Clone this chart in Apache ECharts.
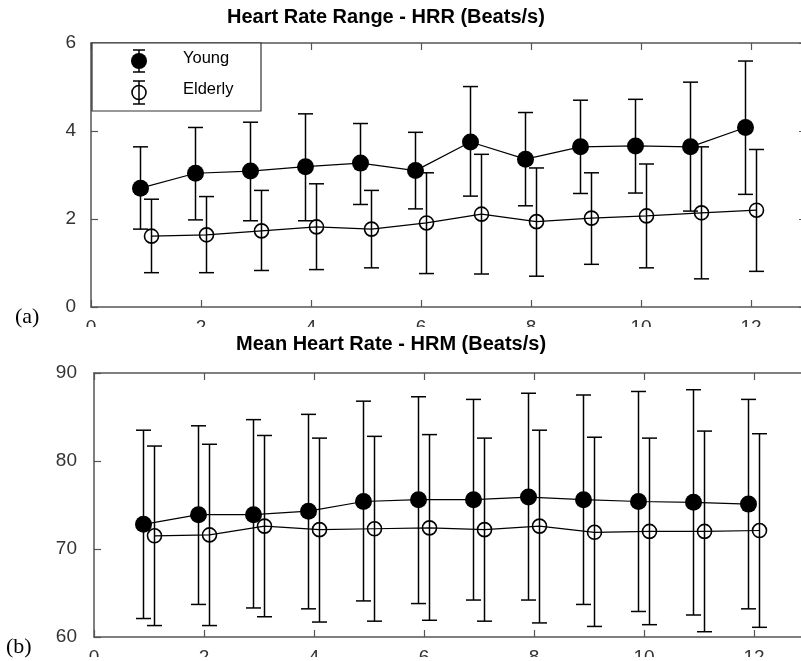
<!DOCTYPE html>
<html><head><meta charset="utf-8">
<script src="https://cdn.jsdelivr.net/npm/echarts@6/dist/echarts.min.js"></script>
<style>html,body{margin:0;padding:0;background:#fff}#c{width:801px;height:661px}</style>
</head><body><div id="c"></div><script>
// ---- data ----
const timePoints = [1,2,3,4,5,6,7,8,9,10,11,12];
const xTicks = [0,2,4,6,8,10,12];
const hrrTicks = [0,2,4,6];
const hrmTicks = [60,70,80,90];

const hrrYoungMean = [2.70,3.04,3.09,3.19,3.27,3.10,3.75,3.36,3.64,3.66,3.64,4.08];
const hrrYoungHigh = [3.64,4.08,4.20,4.39,4.17,3.97,5.01,4.42,4.70,4.72,5.11,5.59];
const hrrYoungLow  = [1.77,1.98,1.96,1.96,2.33,2.23,2.52,2.30,2.58,2.59,2.18,2.56];

const hrrElderMean = [1.61,1.64,1.73,1.82,1.77,1.91,2.11,1.94,2.02,2.07,2.14,2.20];
const hrrElderHigh = [2.45,2.51,2.65,2.80,2.65,3.05,3.47,3.16,3.05,3.25,3.64,3.58];
const hrrElderLow  = [0.78,0.78,0.83,0.85,0.89,0.76,0.75,0.70,0.97,0.89,0.64,0.81];

const hrmYoungMean = [72.8,73.9,73.9,74.3,75.4,75.6,75.6,75.9,75.6,75.4,75.3,75.1];
const hrmYoungHigh = [83.5,84.0,84.7,85.3,86.8,87.3,87.0,87.7,87.5,87.9,88.1,87.0];
const hrmYoungLow  = [62.1,63.7,63.3,63.2,64.1,63.8,64.2,64.2,63.7,62.9,62.5,63.2];

const hrmElderMean = [71.5,71.6,72.6,72.2,72.3,72.4,72.2,72.6,71.9,72.0,72.0,72.1];
const hrmElderHigh = [81.7,81.9,82.9,82.6,82.8,83.0,82.6,83.5,82.7,82.6,83.4,83.1];
const hrmElderLow  = [61.3,61.3,62.3,61.7,61.8,61.9,61.8,61.6,61.2,61.4,60.6,61.1];

const legendNames = ['Young','Elderly'];
const titles = ['Heart Rate Range - HRR (Beats/s)','Mean Heart Rate - HRM (Beats/s)'];
const panelTags = ['(a)','(b)'];

// ---- styling / layout ----
const YOUNG_OFF = -0.1, ELDER_OFF = 0.1;
const FONT = 'Liberation Sans, Arial, sans-serif';
const AX = '#555';

function pts(means, off){ return timePoints.map((t,i)=>[t+off, means[i]]); }
function bars(lo, hi, off){ return timePoints.map((t,i)=>[t+off, lo[i], hi[i]]); }

function errorBarItem(params, api){
  const x = api.value(0);
  const lo = api.coord([x, api.value(1)]);
  const hi = api.coord([x, api.value(2)]);
  const hw = 7.5;
  const style = {stroke:'#000', lineWidth:1.5, fill:null};
  return {type:'group', children:[
    {type:'line', shape:{x1:lo[0],y1:lo[1],x2:hi[0],y2:hi[1]}, style:style},
    {type:'line', shape:{x1:hi[0]-hw,y1:hi[1],x2:hi[0]+hw,y2:hi[1]}, style:style},
    {type:'line', shape:{x1:lo[0]-hw,y1:lo[1],x2:lo[0]+hw,y2:lo[1]}, style:style}
  ]};
}

function xAx(g, pos, showLabel){
  return {type:'value', gridIndex:g, position:pos, min:xTicks[0], max:13, interval:xTicks[1]-xTicks[0],
    axisLine:{show:true, onZero:false, lineStyle:{color:AX, width:1.5}},
    axisTick:{show:true, inside:true, length:7, lineStyle:{color:AX, width:1.2}},
    axisLabel:{show:showLabel, showMaxLabel:false, color:'#333', fontSize:19, fontFamily:FONT, margin:11},
    splitLine:{show:false}};
}
function yAx(g, pos, ticks, showLabel, margin){
  return {type:'value', gridIndex:g, position:pos, min:ticks[0], max:ticks[ticks.length-1], interval:ticks[1]-ticks[0],
    axisLine:{show:true, onZero:false, lineStyle:{color:AX, width:1.5}},
    axisTick:{show:true, inside:true, length:7, lineStyle:{color:AX, width:1.2}},
    axisLabel:{show:showLabel, color:'#333', fontSize:19, fontFamily:FONT, margin:margin, padding:[0,0,7,0]},
    splitLine:{show:false}};
}

function group(gi, yM, yH, yL, eM, eH, eL){
  const xi = gi*2, yi = gi*2;
  return [
    {type:'custom', xAxisIndex:xi, yAxisIndex:yi, renderItem:errorBarItem, data:bars(yL,yH,YOUNG_OFF), clip:false, z:2},
    {type:'custom', xAxisIndex:xi, yAxisIndex:yi, renderItem:errorBarItem, data:bars(eL,eH,ELDER_OFF), clip:false, z:2},
    {type:'line', name:legendNames[0], xAxisIndex:xi, yAxisIndex:yi, data:pts(yM,YOUNG_OFF), symbol:'circle', symbolSize:17,
      itemStyle:{color:'#000'}, lineStyle:{color:'#000', width:1.2}, z:3, emphasis:{disabled:true}},
    {type:'line', name:legendNames[1], xAxisIndex:xi, yAxisIndex:yi, data:pts(eM,ELDER_OFF), symbol:'circle', symbolSize:14,
      itemStyle:{color:'rgba(0,0,0,0)', borderColor:'#000', borderWidth:1.6}, lineStyle:{color:'#000', width:1.2}, z:3, emphasis:{disabled:true}}
  ];
}

const ls = {stroke:'#000', lineWidth:1.5};
const option = {
  backgroundColor:'#fff',
  animation:false,
  title:[
    {text:titles[0], left:227, top:7, padding:0, textStyle:{fontSize:20, fontWeight:'bold', color:'#000', fontFamily:FONT}},
    {text:titles[1], left:236, top:334, padding:0, textStyle:{fontSize:20, fontWeight:'bold', color:'#000', fontFamily:FONT}}
  ],
  grid:[
    {left:91, top:43, width:715, height:264, outerBoundsMode:'none', containLabel:false},
    {left:94, top:373, width:715, height:264, outerBoundsMode:'none', containLabel:false}
  ],
  xAxis:[xAx(0,'bottom',true), xAx(0,'top',false), xAx(1,'bottom',true), xAx(1,'top',false)],
  yAxis:[yAx(0,'left',hrrTicks,true,15), yAx(0,'right',hrrTicks,false,8), yAx(1,'left',hrmTicks,true,17), yAx(1,'right',hrmTicks,false,8)],
  series:[].concat(
    group(0, hrrYoungMean, hrrYoungHigh, hrrYoungLow, hrrElderMean, hrrElderHigh, hrrElderLow),
    group(1, hrmYoungMean, hrmYoungHigh, hrmYoungLow, hrmElderMean, hrmElderHigh, hrmElderLow)
  ),
  graphic:[
    {type:'rect', shape:{x:60, y:327, width:741, height:7}, style:{fill:'#fff'}, z:100, silent:true},
    {type:'rect', shape:{x:60, y:657, width:741, height:4}, style:{fill:'#fff'}, z:100, silent:true},
    {type:'text', left:15, top:306, z:101, style:{text:panelTags[0], font:'22px "Liberation Serif", serif', fill:'#000'}},
    {type:'text', left:6, top:636, z:101, style:{text:panelTags[1], font:'22px "Liberation Serif", serif', fill:'#000'}},
    // legend box
    {type:'rect', shape:{x:92, y:43, width:169, height:68}, style:{fill:'#fff', stroke:'#333', lineWidth:1.2}, z:50},
    {type:'line', shape:{x1:139,y1:50,x2:139,y2:72}, style:ls, z:51},
    {type:'line', shape:{x1:133,y1:50,x2:145,y2:50}, style:ls, z:51},
    {type:'line', shape:{x1:133,y1:72,x2:145,y2:72}, style:ls, z:51},
    {type:'circle', shape:{cx:139, cy:61, r:8}, style:{fill:'#000'}, z:52},
    {type:'line', shape:{x1:139,y1:81,x2:139,y2:104}, style:ls, z:51},
    {type:'line', shape:{x1:133,y1:81,x2:145,y2:81}, style:ls, z:51},
    {type:'line', shape:{x1:133,y1:104,x2:145,y2:104}, style:ls, z:51},
    {type:'circle', shape:{cx:139, cy:92.5, r:7}, style:{fill:'rgba(0,0,0,0)', stroke:'#000', lineWidth:1.6}, z:52},
    {type:'text', left:183, top:50, z:52, style:{text:legendNames[0], font:'16.5px "Liberation Sans", Arial, sans-serif', fill:'#000'}},
    {type:'text', left:183, top:81, z:52, style:{text:legendNames[1], font:'16.5px "Liberation Sans", Arial, sans-serif', fill:'#000'}}
  ]
};
const chart = echarts.init(document.getElementById('c'), null, {renderer:'canvas'});
chart.setOption(option);
</script></body></html>
